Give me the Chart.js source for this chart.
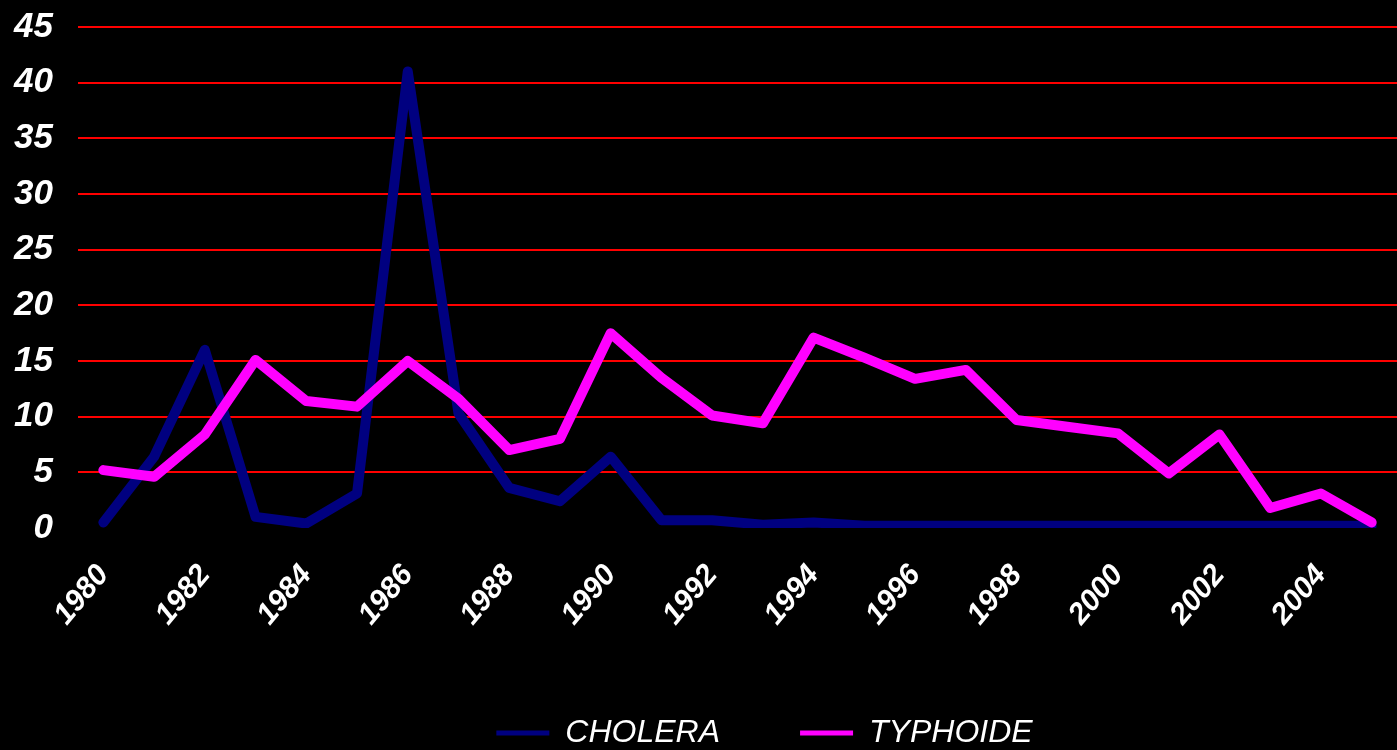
<!DOCTYPE html>
<html>
<head>
<meta charset="utf-8">
<script src="https://cdn.jsdelivr.net/npm/chart.js@4/dist/chart.umd.min.js"></script>
<style>
  html, body { margin: 0; padding: 0; background: #000; }
  #chart { display: block; }
</style>
</head>
<body>
<canvas id="chart" width="1397" height="750"></canvas>
<script>
// years on the x axis (every year, only even ones are labelled)
const years = ['1980','1981','1982','1983','1984','1985','1986','1987','1988','1989','1990','1991','1992',
  '1993','1994','1995','1996','1997','1998','1999','2000','2001','2002','2003','2004','2005'];

const cholera = [0.5, 6.4, 16.0, 1.0, 0.4, 3.1, 41.0, 10.3, 3.6, 2.4, 6.4, 0.7, 0.7,
  0.3, 0.5, 0.2, 0.2, 0.2, 0.2, 0.2, 0.2, 0.2, 0.2, 0.2, 0.2, 0.2];
const typhoide = [5.2, 4.6, 8.4, 15.1, 11.4, 10.9, 15.0, 11.6, 7.0, 8.0, 17.5, 13.5, 10.1,
  9.4, 17.1, 15.3, 13.4, 14.2, 9.7, 9.1, 8.5, 4.9, 8.4, 1.8, 3.1, 0.5];

const yMin = 0, yMax = 45, yStep = 5;

const FONT = '"Liberation Sans", Arial, sans-serif';

// the legend in the original sits a bit right of centre
const legendShift = {
  id: 'legendShift',
  afterLayout(chart) {
    const lg = chart.legend;
    if (lg) { lg.left += 66; lg.right += 66; }
  }
};

new Chart(document.getElementById('chart').getContext('2d'), {
  type: 'line',
  data: {
    labels: years,
    datasets: [
      { label: 'CHOLERA', data: cholera, borderColor: '#000080', backgroundColor: '#000080', order: 1 },
      { label: 'TYPHOIDE', data: typhoide, borderColor: '#ff00ff', backgroundColor: '#ff00ff', order: 0 }
    ]
  },
  plugins: [legendShift],
  options: {
    responsive: false,
    animation: false,
    devicePixelRatio: 1,
    layout: { padding: { top: 27, left: 0, right: 0, bottom: -9 } },
    elements: {
      line: { borderWidth: 10, tension: 0, borderCapStyle: 'round', borderJoinStyle: 'round' },
      point: { radius: 0, hoverRadius: 0 }
    },
    plugins: {
      tooltip: { enabled: false },
      legend: {
        position: 'bottom',
        labels: {
          color: '#fff',
          font: { family: FONT, size: 32, style: 'italic' },
          boxWidth: 53,
          boxHeight: 5,
          padding: 80,
          sort: (a, b) => a.datasetIndex - b.datasetIndex,
          generateLabels: chart => Chart.defaults.plugins.legend.labels.generateLabels(chart)
            .map(l => ({ ...l, lineWidth: 0 }))
        }
      }
    },
    scales: {
      x: {
        offset: true,
        afterFit: s => { s.height = 109; s.paddingLeft = 0; s.paddingRight = 0; },
        grid: { display: false },
        border: { display: false },
        ticks: {
          autoSkip: false,
          minRotation: 50,
          maxRotation: 50,
          padding: 22,
          color: '#fff',
          font: { family: FONT, size: 30, style: 'italic', weight: 'bold' },
          callback: (v, i) => (i % 2 ? '' : years[i])
        }
      },
      y: {
        min: yMin,
        max: yMax,
        afterFit: s => { s.width = 78; s.paddingTop = 0; s.paddingBottom = 0; },
        border: { display: false },
        grid: {
          color: c => (c.tick.value === 0 ? 'rgba(0,0,0,0)' : '#ff0000'),
          lineWidth: 2,
          drawTicks: false
        },
        ticks: {
          stepSize: yStep,
          padding: 25,
          color: '#fff',
          font: { family: FONT, size: 35, style: 'italic', weight: 'bold' }
        }
      }
    }
  }
});
</script>
</body>
</html>
